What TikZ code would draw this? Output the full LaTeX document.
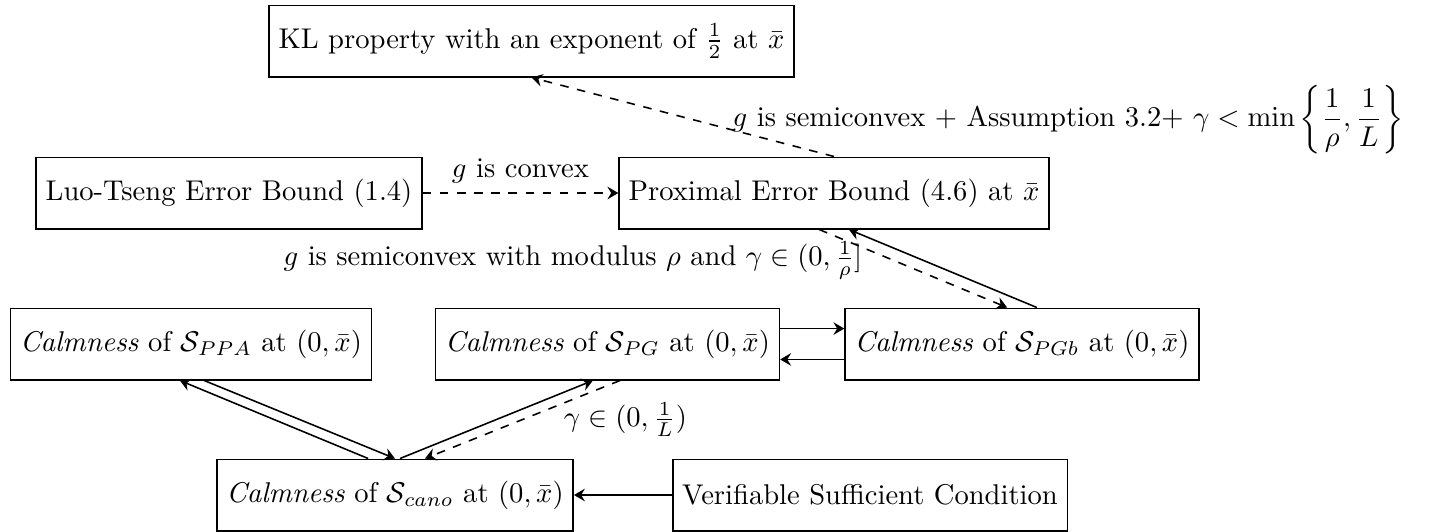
\documentclass[tikz,border=0pt]{standalone}
\usepackage{amsmath}
\usetikzlibrary{arrows.meta}
\begin{document}
\begin{tikzpicture}[x=0.35pt,y=-0.35pt,
  box/.style={draw,line width=0.55pt,minimum height=25pt,inner xsep=3.33pt},
  conn/.style={line width=0.55pt,-{Stealth[length=3.8pt,width=4.4pt,inset=1.3pt]}}]
\useasboundingbox (0,0) rectangle (1429,531);
\node[box] (KL) at (531.5,41) {KL property with an exponent of $\frac{1}{2}$ at $\bar{x}$};
\node[box] (Luo) at (229,193) {Luo-Tseng Error Bound (1.4)};
\node[box] (PEB) at (834,193) {Proximal Error Bound (4.6) at $\bar{x}$};
\node[box] (PPA) at (191,344) {\textit{Calmness} of $\mathcal{S}_{PPA}$ at $(0,\bar{x})$};
\node[box] (PG) at (607.5,344) {\textit{Calmness} of $\mathcal{S}_{PG}$ at $(0,\bar{x})$};
\node[box] (PGb) at (1022,344) {\textit{Calmness} of $\mathcal{S}_{PGb}$ at $(0,\bar{x})$};
\node[box] (cano) at (395,495) {\textit{Calmness} of $\mathcal{S}_{cano}$ at $(0,\bar{x})$};
\node[box] (Ver) at (870,495) {Verifiable Sufficient Condition};

\draw[conn,dashed] (Luo) -- node[above] {$g$ is convex} (PEB);
\draw[conn,dashed] (PEB.north) -- node[pos=0.369,anchor=west,yshift=2.8pt]
  {$g$ is semiconvex $+$ Assumption 3.2$+$ $\displaystyle\gamma<\min\left\{\frac{1}{\rho},\frac{1}{L}\right\}$} (KL.south);
\draw[conn,dashed] ([xshift=-5.2pt]PEB.south) -- node[pos=0.4,anchor=east,xshift=-7.7pt]
  {$g$ is semiconvex with modulus $\rho$ and $\gamma\in(0,\frac{1}{\rho}]$} ([xshift=-5.2pt]PGb.north);
\draw[conn] ([xshift=5.2pt]PGb.north) -- ([xshift=5.2pt]PEB.south);
\draw[conn] ([yshift=5.4pt]PG.east) -- ([yshift=5.4pt]PGb.west);
\draw[conn] ([yshift=-5.4pt]PGb.west) -- ([yshift=-5.4pt]PG.east);
\draw[conn] ([xshift=-9.4pt]cano.north) -- ([xshift=-3.9pt]PPA.south);
\draw[conn] ([xshift=4.6pt]PPA.south) -- (cano.north);
\draw[conn] ([xshift=1.75pt]cano.north) -- ([xshift=-5.1pt]PG.south);
\draw[conn,dashed] ([xshift=4.4pt]PG.south) -- node[pos=0.5,anchor=west,xshift=10.9pt]
  {$\gamma\in(0,\frac{1}{L})$} ([xshift=10.5pt]cano.north);
\draw[conn] (Ver) -- (cano);
\end{tikzpicture}
\end{document}
